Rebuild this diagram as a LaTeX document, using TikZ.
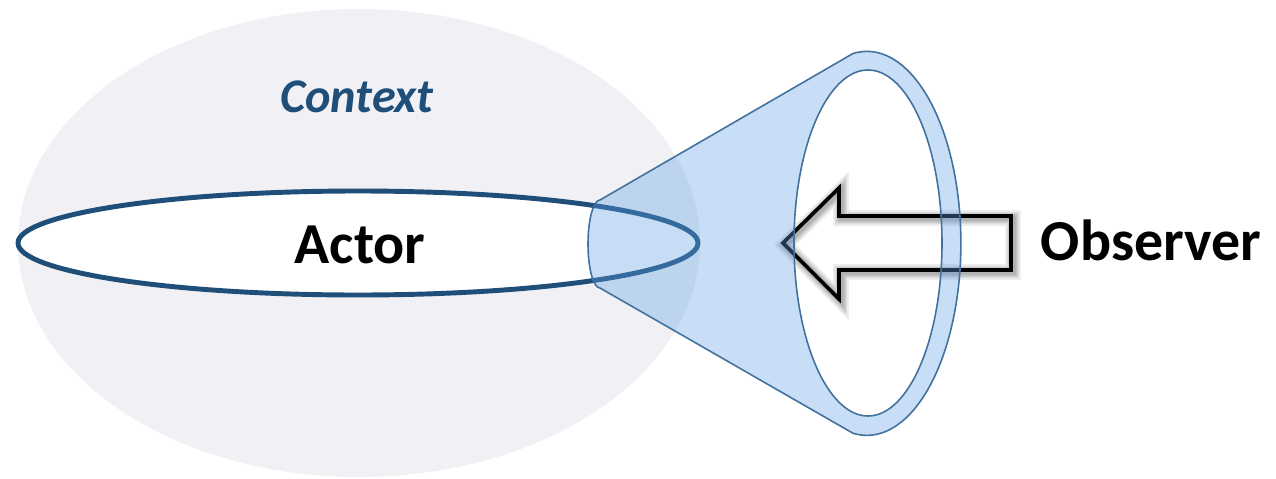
\documentclass[tikz,border=0pt]{standalone}
\usepackage{xcolor}
\usepackage{fontspec}
\setmainfont{Carlito}
\usepackage{tikz}

\definecolor{ctxgrey}{HTML}{F0F0F5}
\definecolor{ctxblue}{HTML}{1F4E79}
\definecolor{conefill}{HTML}{5FA0E6}
\definecolor{coneline}{HTML}{41719C}

\newcommand{\obsarrow}{(783,235) -- (839,290) -- (839,262) -- (1011,262) -- (1011,208) -- (839,208) -- (839,179) -- cycle}

\begin{document}
\begin{tikzpicture}[x=0.02cm,y=0.02cm]
\useasboundingbox (0,0) rectangle (1276,478);

\tikzstyle{bigtext}=[font=\fontsize{33}{36}\selectfont\bfseries,inner sep=0pt,anchor=base];
\tikzstyle{conestyle}=[draw=coneline,line width=0.9pt,fill=conefill,fill opacity=0.35,even odd rule];

% context
\fill[ctxgrey] (359,235) ellipse[x radius=341,y radius=234];
\node[font=\fontsize{27.5}{30}\selectfont\bfseries\itshape,text=ctxblue,inner sep=0pt,anchor=base] (context) at (357,366) {Context};

% actor
\draw[ctxblue,line width=2.8pt,fill=white] (358,235) ellipse[x radius=340,y radius=52];
\node[bigtext] (actor) at (360,215) {Actor};

% observer arrow with soft shadow
\foreach \w in {9,7,5.5,4,3}
	\draw[black,opacity=0.07,line width=\w pt,line join=miter,shift={(2,-2)}] \obsarrow;
\draw[black,line width=2.1pt,line join=miter] \obsarrow;
\node[bigtext] (observer) at (1151,218) {Observer};

% cone
\path[conestyle] (600,278) -- (853,424.5)
	arc[start angle=98.5,end angle=-98.5,x radius=94,y radius=192]
	-- (600,190)
	arc[start angle=270,end angle=90,x radius=12,y radius=44] -- cycle
	(868,235) ellipse[x radius=74,y radius=173];
\end{tikzpicture}
\end{document}
